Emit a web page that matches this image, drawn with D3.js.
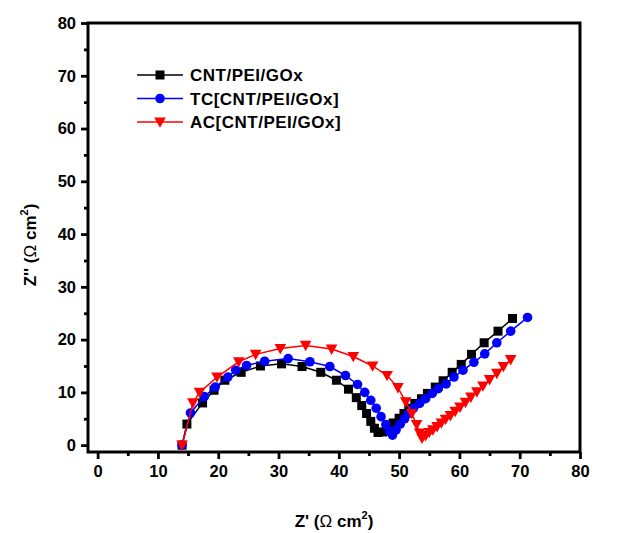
<!DOCTYPE html>
<html>
<head>
<meta charset="utf-8">
<script src="https://cdn.jsdelivr.net/npm/d3@7"></script>
<style>
  html, body { margin: 0; padding: 0; background: #fff; }
  svg { display: block; font-family: "Liberation Sans", Arial, sans-serif; }
</style>
</head>
<body>
<svg id="chart" width="633" height="533"></svg>
<script>
// Nyquist data (Z' and Z'' in ohm cm^2)
const cntX = [14.0, 14.8, 17.4, 19.3, 21.1, 23.8, 27.0, 30.5, 33.9, 37.0, 39.6, 41.6, 42.9, 43.8, 44.6, 45.3, 45.9, 46.5, 47.3, 48.0, 49.0, 50.0, 50.8, 51.6, 52.6, 53.7, 54.7, 56.0, 57.3, 58.8, 60.3, 62.0, 64.1, 66.4, 68.8];
const cntY = [0.0, 4.0, 8.0, 10.4, 12.3, 13.8, 15.0, 15.4, 14.9, 13.8, 12.3, 10.6, 9.0, 7.5, 6.0, 4.5, 3.2, 2.4, 2.5, 3.2, 4.2, 5.1, 6.0, 7.0, 7.9, 8.8, 9.8, 11.0, 12.2, 13.8, 15.3, 17.2, 19.4, 21.6, 24.0];

const tcX = [14.0, 15.4, 17.7, 19.5, 21.6, 22.9, 24.7, 27.7, 31.6, 35.2, 38.5, 41.1, 43.1, 44.3, 45.3, 46.2, 47.0, 47.8, 48.4, 48.9, 49.5, 50.2, 50.9, 51.6, 52.4, 53.4, 54.4, 55.5, 56.5, 57.8, 59.1, 60.6, 62.4, 64.2, 66.2, 68.5, 71.3];
const tcY = [0.0, 6.1, 9.2, 11.0, 12.9, 14.2, 15.1, 15.9, 16.4, 15.8, 14.9, 13.2, 11.5, 10.0, 8.5, 7.0, 5.4, 3.9, 2.6, 1.9, 2.9, 4.0, 5.0, 6.0, 7.0, 7.9, 8.8, 9.8, 10.7, 11.6, 12.9, 14.2, 15.7, 17.3, 19.4, 21.6, 24.2];

const acX = [14.0, 15.8, 16.9, 19.8, 23.4, 26.2, 30.3, 34.5, 38.8, 42.4, 45.6, 48.0, 49.8, 51.1, 52.1, 52.9, 53.4, 53.8, 54.4, 55.0, 55.6, 56.3, 57.0, 57.7, 58.5, 59.3, 60.1, 61.0, 61.9, 62.9, 63.9, 65.0, 66.2, 67.3, 68.5];
const acY = [0.0, 8.0, 10.0, 12.9, 15.8, 17.2, 18.3, 18.9, 18.2, 16.8, 15.0, 13.2, 10.9, 8.2, 6.0, 3.9, 2.3, 1.3, 1.8, 2.4, 2.9, 3.5, 4.2, 4.9, 5.6, 6.4, 7.2, 8.1, 9.1, 10.1, 11.2, 12.4, 13.6, 14.9, 16.2];

const seriesNames = ['CNT/PEI/GOx', 'TC[CNT/PEI/GOx]', 'AC[CNT/PEI/GOx]'];
const majorTicks = [0, 10, 20, 30, 40, 50, 60, 70, 80];
const minorTicks = [5, 15, 25, 35, 45, 55, 65, 75];

const series = [
    { name: seriesNames[0], xs: cntX, ys: cntY, color: '#000000', symbol: 'square' },
    { name: seriesNames[1], xs: tcX, ys: tcY, color: '#0000ff', symbol: 'circle' },
    { name: seriesNames[2], xs: acX, ys: acY, color: '#ff0000', symbol: 'triangle' }
];

const svg = d3.select('#chart');
const frame = { left: 88, right: 580, top: 23, bottom: 452 };

const x = d3.scaleLinear().domain([-1.6, 80]).range([frame.left, frame.right]);
const y = d3.scaleLinear().domain([-1.3, 80]).range([frame.bottom, frame.top]);

// axes: major ticks with labels, minor ticks without
const xMajor = svg.append('g')
    .attr('transform', `translate(0,${frame.bottom})`)
    .call(d3.axisBottom(x).tickValues(majorTicks).tickSize(7).tickPadding(6));
const xMinor = svg.append('g')
    .attr('transform', `translate(0,${frame.bottom})`)
    .call(d3.axisBottom(x).tickValues(minorTicks).tickSize(4).tickFormat(''));
const yMajor = svg.append('g')
    .attr('transform', `translate(${frame.left},0)`)
    .call(d3.axisLeft(y).tickValues(majorTicks).tickSize(7).tickPadding(5));
const yMinor = svg.append('g')
    .attr('transform', `translate(${frame.left},0)`)
    .call(d3.axisLeft(y).tickValues(minorTicks).tickSize(4).tickFormat(''));

[xMajor, xMinor, yMajor, yMinor].forEach(g => {
    g.select('.domain').remove();
    g.selectAll('.tick line').attr('stroke', '#000').attr('stroke-width', 2.8);
    g.selectAll('.tick text')
        .attr('fill', '#000')
        .attr('font-size', 16.5)
        .attr('font-weight', 'bold')
        .attr('font-family', '"Liberation Sans", Arial, sans-serif');
});

// frame
svg.append('rect')
    .attr('x', frame.left)
    .attr('y', frame.top)
    .attr('width', frame.right - frame.left)
    .attr('height', frame.bottom - frame.top)
    .attr('fill', 'none')
    .attr('stroke', '#000')
    .attr('stroke-width', 3);

function drawMarker(g, symbol, color) {
    if (symbol === 'square') {
        g.append('rect').attr('x', -4.5).attr('y', -4.5).attr('width', 9).attr('height', 9).attr('fill', color);
    } else if (symbol === 'circle') {
        g.append('circle').attr('r', 4.8).attr('fill', color);
    } else {
        g.append('path').attr('d', 'M-5.8,-4.6 L5.8,-4.6 L0,5.8 Z').attr('fill', color);
    }
}

const line = d3.line().x(d => x(d[0])).y(d => y(d[1]));

series.forEach(s => {
    const pts = s.xs.map((v, i) => [v, s.ys[i]]);
    const g = svg.append('g');
    g.append('path')
        .datum(pts)
        .attr('fill', 'none')
        .attr('stroke', s.color)
        .attr('stroke-width', 1.5)
        .attr('d', line);
    pts.forEach(p => {
        const m = g.append('g').attr('transform', `translate(${x(p[0])},${y(p[1])})`);
        drawMarker(m, s.symbol, s.color);
    });
});

// legend
const legend = svg.append('g');
series.forEach((s, i) => {
    const cy = 75 + i * 23.5;
    legend.append('line')
        .attr('x1', 137).attr('x2', 183)
        .attr('y1', cy).attr('y2', cy)
        .attr('stroke', s.color).attr('stroke-width', 1.5);
    const m = legend.append('g').attr('transform', `translate(160,${cy})`);
    drawMarker(m, s.symbol, s.color);
    legend.append('text')
        .attr('x', 190).attr('y', cy + 6)
        .attr('font-size', 17)
        .attr('font-weight', 'bold')
        .attr('letter-spacing', 0.5)
        .text(s.name);
});

// axis titles
const xTitle = svg.append('text')
    .attr('x', 334).attr('y', 527)
    .attr('text-anchor', 'middle')
    .attr('font-size', 17)
    .attr('font-weight', 'bold');
xTitle.append('tspan').text("Z' (");
xTitle.append('tspan').attr('font-weight', 'normal').text('\u03A9');
xTitle.append('tspan').text(' cm');
xTitle.append('tspan').attr('font-size', 11).attr('dy', -8).text('2');
xTitle.append('tspan').attr('dy', 8).text(')');

const yTitle = svg.append('text')
    .attr('transform', 'translate(36,245) rotate(-90)')
    .attr('text-anchor', 'middle')
    .attr('font-size', 17)
    .attr('font-weight', 'bold');
yTitle.append('tspan').text("Z'' (");
yTitle.append('tspan').attr('font-weight', 'normal').text('\u03A9');
yTitle.append('tspan').text(' cm');
yTitle.append('tspan').attr('font-size', 11).attr('dy', -8).text('2');
yTitle.append('tspan').attr('dy', 8).text(')');
</script>
</body>
</html>
